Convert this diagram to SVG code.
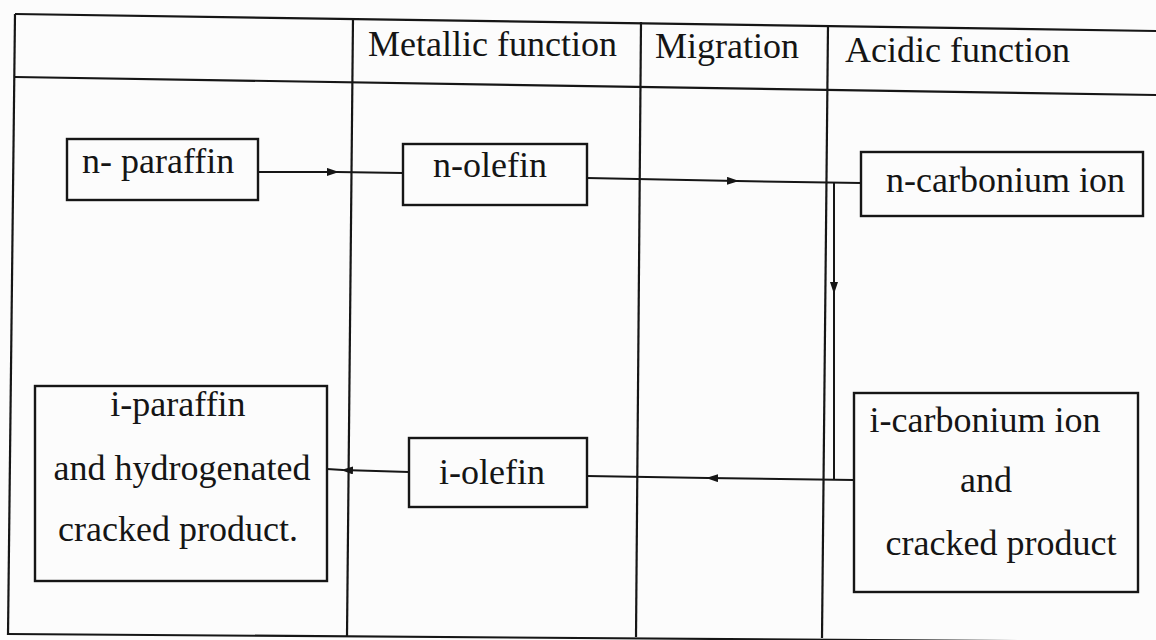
<svg xmlns="http://www.w3.org/2000/svg" width="1156" height="640" viewBox="0 0 1156 640">
<style>
.t{font-family:"Liberation Serif","Times New Roman",serif;font-size:36px;fill:#151515}
.g{stroke:#161616;stroke-width:2.2;fill:none}
.b{stroke:#161616;stroke-width:2.4;fill:none}
.c{stroke:#161616;stroke-width:2;fill:none;marker-mid:url(#ah)}
</style>
<defs>
<marker id="ah" viewBox="0 0 12 8" refX="10" refY="4" markerWidth="12" markerHeight="8" markerUnits="userSpaceOnUse" orient="auto">
<path d="M0,0 L12,4 L0,8 z" fill="#161616"/>
</marker>
</defs>
<rect width="1156" height="640" fill="#fcfcfc"/>
<g id="table">
<line class="g" x1="15" y1="14" x2="1156" y2="31"/>
<line class="g" x1="15" y1="77" x2="1156" y2="95"/>
<line class="g" x1="15" y1="14" x2="8" y2="635"/>
<line class="g" x1="8" y1="634" x2="1156" y2="642"/>
<line class="g" x1="353" y1="18" x2="347" y2="636"/>
<line class="g" x1="641" y1="22" x2="636" y2="637"/>
<line class="g" x1="828" y1="25" x2="822" y2="638"/>
<text class="t" x="368" y="56">Metallic function</text>
<text class="t" x="655" y="58">Migration</text>
<text class="t" x="845" y="62">Acidic function</text>
</g>
<g id="n-paraffin">
<rect class="b" x="67" y="139" width="191" height="61"/>
<text class="t" x="82" y="173">n- paraffin</text>
</g>
<g id="n-olefin">
<rect class="b" x="403" y="144" width="184" height="61"/>
<text class="t" x="433" y="177">n-olefin</text>
</g>
<g id="n-carbonium">
<rect class="b" x="861" y="152" width="282" height="64"/>
<text class="t" x="886" y="192">n-carbonium ion</text>
</g>
<g id="i-paraffin">
<rect class="b" x="35" y="386" width="292" height="195"/>
<text class="t" x="178" y="416" text-anchor="middle">i-paraffin</text>
<text class="t" x="182" y="480" text-anchor="middle">and hydrogenated</text>
<text class="t" x="178" y="541" text-anchor="middle">cracked product.</text>
</g>
<g id="i-olefin">
<rect class="b" x="409" y="438" width="178" height="69"/>
<text class="t" x="492" y="484" text-anchor="middle">i-olefin</text>
</g>
<g id="i-carbonium">
<rect class="b" x="854" y="393" width="284" height="199"/>
<text class="t" x="985" y="432" text-anchor="middle">i-carbonium ion</text>
<text class="t" x="986" y="492" text-anchor="middle">and</text>
<text class="t" x="1001" y="555" text-anchor="middle">cracked product</text>
</g>
<g id="connectors">
<path class="c" d="M258,172 L337,172 L403,173"/>
<path class="c" d="M587,178 L737,181 L861,183"/>
<path class="c" d="M834,183 L834,292 L834,480"/>
<path class="c" d="M854,480 L708,478 L587,476"/>
<path class="c" d="M409,472 L343,470 L327,469"/>
</g>
</svg>
